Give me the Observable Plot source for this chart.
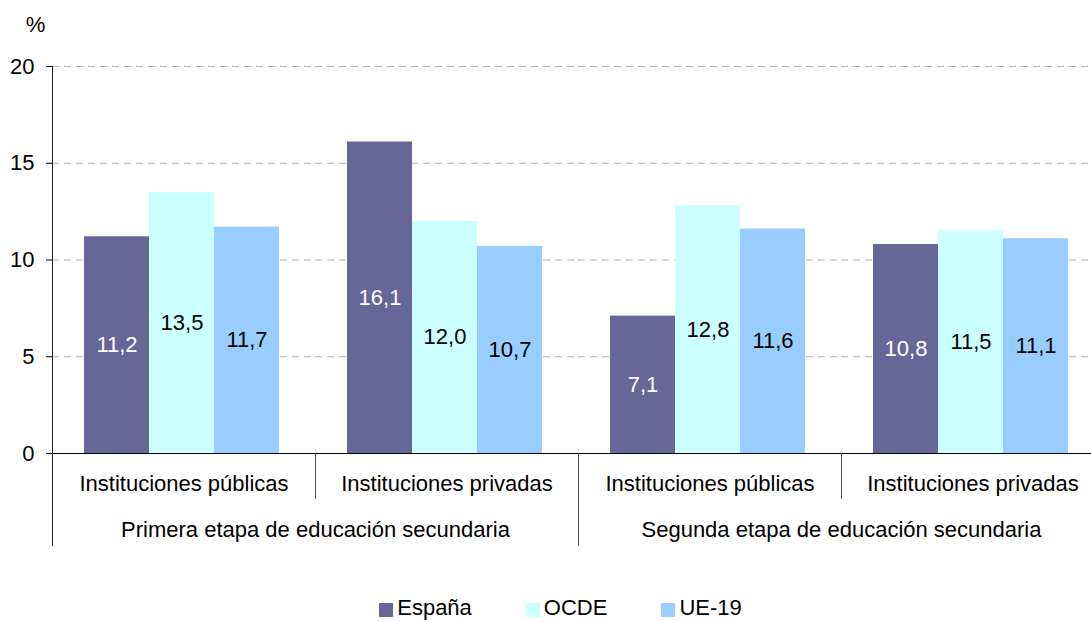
<!DOCTYPE html>
<html>
<head>
<meta charset="utf-8">
<script src="https://cdn.jsdelivr.net/npm/d3@7"></script>
<script src="https://cdn.jsdelivr.net/npm/@observablehq/plot@0.6"></script>
<style>
  html, body { margin: 0; padding: 0; background: #fff; }
  body { width: 1091px; height: 621px; overflow: hidden; font-family: "Liberation Sans", Arial, sans-serif; }
  #legend { display: flex; justify-content: center; padding-left: 30px; gap: 54px; margin-top: 37px; font-size: 22px; line-height: 22px; color: #000; }
  .item { display: flex; align-items: center; gap: 4px; }
  .sw { width: 14px; height: 14px; display: inline-block; margin-top: 4px; }
</style>
</head>
<body>
<div id="chart"></div>
<div id="legend"></div>
<script>
const categories = ["c0", "c1", "c2", "c3"];
const categoryLabels = ["Instituciones públicas", "Instituciones privadas", "Instituciones públicas", "Instituciones privadas"];
const groupLabels = ["Primera etapa de educación secundaria", "Segunda etapa de educación secundaria"];
const groupAnchorCats = ["c0", "c2"];
const series = ["España", "OCDE", "UE-19"];
const seriesColors = ["#666699", "#CCFFFF", "#99CCFF"];
const labelColors = ["#ffffff", "#000000", "#000000"];
const espana = [11.2, 16.1, 7.1, 10.8];
const ocde = [13.5, 12.0, 12.8, 11.5];
const ue19 = [11.7, 10.7, 11.6, 11.1];
const yTicks = [0, 5, 10, 15, 20];

const values = [espana, ocde, ue19];
const data = [];
categories.forEach((c, ci) => series.forEach((s, si) => data.push({cat: c, series: s, value: values[si][ci], color: seriesColors[si], tcolor: labelColors[si]})));
const catRows = categories.map((c, i) => ({cat: c, label: categoryLabels[i]}));
const groupRows = groupAnchorCats.map((c, i) => ({cat: c, label: groupLabels[i]}));
const fmt = v => v.toFixed(1).replace(".", ",");

const FS = 22;
const W = 1091, H = 560;
const chart = Plot.plot({
  width: W, height: H,
  marginLeft: 52, marginRight: -13, marginTop: 66, marginBottom: H - 453,
  style: {fontFamily: "'Liberation Sans', Arial, sans-serif", fontSize: FS + "px", color: "#000", background: "#fff"},
  fx: {domain: categories, padding: 0, axis: null},
  x: {domain: series, paddingInner: 0, paddingOuter: 0.5, align: 0.47, axis: null},
  y: {domain: [0, 20], ticks: yTicks},
  color: {type: "identity"},
  marks: [
    Plot.gridY(yTicks.filter(t => t > 0), {stroke: "#b0b0b0", strokeOpacity: 1, strokeDasharray: "7,5"}),
    Plot.barY(data, {fx: "cat", x: "series", y: "value", fill: "color"}),
    Plot.text(data, {fx: "cat", x: "series", y: d => d.value / 2, text: d => fmt(d.value), fill: "tcolor", fontSize: FS}),
    Plot.ruleY([0], {stroke: "#000", strokeWidth: 1.2}),
    Plot.axisY({ticks: yTicks, tickSize: 6, tickPadding: 12, stroke: "#000", fontSize: FS, label: null}),
    Plot.frame({fx: () => "c0", anchor: "left", stroke: "#222", insetBottom: -92}),
    Plot.frame({fx: () => "c2", anchor: "left", stroke: "#555", insetTop: 387, insetBottom: -92}),
    Plot.frame({fx: () => "c1", anchor: "left", stroke: "#555", insetTop: 387, insetBottom: -45}),
    Plot.frame({fx: () => "c3", anchor: "left", stroke: "#555", insetTop: 387, insetBottom: -45}),
    Plot.text(catRows, {fx: "cat", text: "label", frameAnchor: "bottom", dy: 30, lineAnchor: "middle", fontSize: FS}),
    Plot.text(groupRows, {fx: "cat", text: "label", frameAnchor: "bottom-right", textAnchor: "middle", dy: 76, lineAnchor: "middle", fontSize: FS}),
    Plot.text([{cat: "c0"}], {fx: "cat", text: () => "%", frameAnchor: "top-left", textAnchor: "middle", lineAnchor: "middle", dx: -17, dy: -42, fontSize: FS})
  ]
});
document.getElementById("chart").appendChild(chart);

const legend = document.getElementById("legend");
series.forEach((s, i) => {
  const item = document.createElement("div");
  item.className = "item";
  const sw = document.createElement("span");
  sw.className = "sw";
  sw.style.background = seriesColors[i];
  const t = document.createElement("span");
  t.textContent = s;
  item.appendChild(sw);
  item.appendChild(t);
  legend.appendChild(item);
});
</script>
</body>
</html>
